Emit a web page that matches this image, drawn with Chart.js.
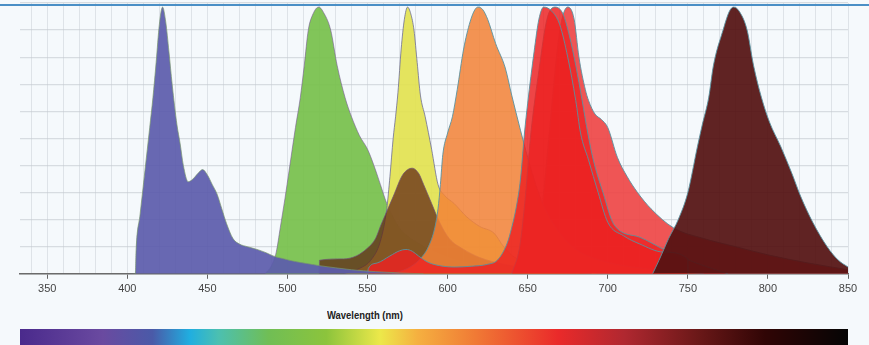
<!DOCTYPE html>
<html>
<head>
<meta charset="utf-8">
<script src="https://cdn.jsdelivr.net/npm/chart.js@4.4.1/dist/chart.umd.min.js"></script>
<style>
  html, body { margin: 0; padding: 0; background: #f5f9fc; }
  #wrap { position: relative; width: 869px; height: 345px; overflow: hidden; background: #f5f9fc; }
  #topline { position: absolute; left: 0; top: 4px; width: 869px; height: 2px; background: #4a8fc6; z-index: 2; }
  #chartBox { position: absolute; left: 0; top: 0; width: 869px; height: 300px; }
  #xtitle {
    position: absolute; left: 327px; top: 309px; white-space: nowrap;
    font: bold 11px "Liberation Sans", Arial, sans-serif; color: #222;
    transform: scaleX(0.86); transform-origin: left top;
  }
  #spectrum {
    position: absolute; left: 20px; top: 329px; width: 828px; height: 16px;
    background: linear-gradient(to right,
      #4a2a8c 0%, #6a4aa0 10%, #4a5aa8 16%, #20aee0 20.5%, #4cc0b0 24%,
      #70be55 30%, #8cc43c 37%, #ece84a 43.5%, #f5b040 48%, #f07a35 55%,
      #ea2a2a 65%, #b02830 73%, #6a1818 82%, #300505 90%, #050505 100%);
  }
</style>
</head>
<body>
<div id="wrap">
  <div id="topline"></div>
  <div id="chartBox"><canvas id="chart"></canvas></div>
  <div id="xtitle">Wavelength (nm)</div>
  <div id="spectrum"></div>
</div>
<script>
// emission spectra, [wavelength nm, % of max]
const violet = [[404,0],[405,0],[405.5,9],[408,22],[411,38],[414,54],[416,65],[418,78],[420,92],[422,98.5],
  [424,93],[426,82],[428,70],[431,55],[433,48],[435,40],[438,34],[441,35],[444,37],[447,38.5],[450,36.5],
  [453,33],[456,29.5],[459,24],[462,18.5],[466,13],[470,11],[475,10],[481,9],[487,7.7],[491,6.6],[498,5.5],
  [505,4.5],[512,3.8],[520,3],[530,2.2],[540,1.5],[555,0.8],[570,0.3],[585,0]];
const green = [[486,0],[490,3],[493,8],[495.5,17],[498.5,28],[501,38],[505,54],[508,65],[510.5,77],[513,90],
  [516,96],[519.5,98.5],[523,96],[527,90],[531,77],[536,65],[540,58],[545,51],[550,46],[554,40],[558,33],
  [562,26],[566,21],[570,17],[575,14],[580,12],[590,8.5],[600,6],[615,3.5],[630,2],[650,1],[680,0]];
const yellow = [[535,0],[545,2],[552,5],[558,12],[562,24],[564,36],[566,50],[567.5,58],[569,67],[571,83],
  [573,94],[575,98.5],[577,96],[579,90],[581,78],[583,66],[586,58],[590,46],[594,33],[598,29],[604,26],
  [612,21],[620,17.5],[629,15],[635,10],[642,6],[655,3],[675,1],[700,0]];
const brown = [[519.9,0],[520,5],[535,5.5],[543,6.6],[550,9.5],[555,13],[558,17.5],[562,23],[566,28.5],
  [572,36.6],[578,39],[582,37],[585,33],[590,26],[595,19],[601,13],[610,9],[620,6],[635,3.5],[650,2],
  [670,1],[690,0]];
const orange = [[565,0],[575,2],[582,5],[588,10],[592,17],[594,24],[595.5,33],[597,44],[600,52],[603,58],
  [606,68],[610,83],[614,93],[617,97.5],[619,98.5],[622,97.5],[625,94],[630,85],[636,76],[640,66],
  [645.5,53],[650,43],[655,33],[660,25],[670,15],[680,9],[695,5],[715,2.5],[740,1],[760,0]];
const redA = [[550,0],[550.5,2],[556,4],[564,6.6],[570,8.5],[574,9],[578,8.3],[582,6.5],[588,4.2],[595,3],
  [605,2.5],[615,2.8],[625,3.5],[631,5],[637,11],[640,17],[643,25],[645.5,35],[648,52],[650,63],[654,82],
  [657,94],[660,98.5],[665,97],[670,92],[675,80],[680,64],[683,52],[688,42],[694,30],[700,19],[710,14],
  [720,11],[735,8],[750,5.5],[750.1,0]];
const redB = [[640,0],[645,10],[648,25],[652,52],[657,75],[662,94],[667,98.5],[672,96],[676,88],[680,77],
  [684,64],[687.5,52],[691,42],[697,30],[704,18],[720,13.5],[735,9],[755,4],[775,0]];
const redC = [[650,0],[656,10],[660,30],[664,55],[668,80],[671,93],[675,98.5],[679,94],[682,80],[686,68],
  [688,64],[692,59],[696,57],[700,54],[706,43],[712,36],[718.6,30],[727,24],[741,17],[760,13],[780,10],
  [800,7],[825,4],[850,1.5]];
const maroon = [[728,0],[732,5],[735,9],[738,13],[744,20],[750,30],[756,47],[759,55],[763,65],[766,77],
  [772,90],[776,97],[778.6,98.5],[782,97],[787,90],[791,77],[796,65],[801,56],[808,47],[815,37],
  [820.5,28.5],[828,19],[837,10],[844,5],[850,2.5]];

const xTickLabels = [350, 400, 450, 500, 550, 600, 650, 700, 750, 800, 850];

const gridNm = [];
for (let v = 340; v <= 850; v += 10) gridNm.push(v);

const toPts = arr => arr.map(p => ({ x: p[0], y: p[1] }));
const edge = 'rgba(90,145,160,0.9)';

// first dataset is drawn on top
const series = [
  { data: violet, fill: 'rgba(92,92,172,0.93)', line: 'rgba(120,150,110,0.7)' },
  { data: maroon, fill: 'rgba(84,18,18,0.93)', line: edge },
  { data: redA, fill: 'rgba(236,35,35,0.84)', line: edge },
  { data: redB, fill: 'rgba(236,38,38,0.86)', line: edge },
  { data: orange, fill: 'rgba(242,130,55,0.86)', line: edge },
  { data: brown, fill: 'rgba(95,35,20,0.72)', line: 'rgba(110,80,120,0.7)' },
  { data: yellow, fill: 'rgba(226,226,80,0.92)', line: 'rgba(110,110,150,0.8)' },
  { data: green, fill: 'rgba(122,194,80,0.95)', line: 'rgba(120,90,150,0.6)' },
  { data: redC, fill: 'rgba(238,70,70,0.92)', line: edge }
];

new Chart(document.getElementById('chart'), {
  type: 'line',
  data: {
    datasets: series.map(s => ({
      data: toPts(s.data),
      backgroundColor: s.fill,
      borderColor: s.line,
      borderWidth: 1,
      fill: 'origin',
      pointRadius: 0,
      cubicInterpolationMode: 'monotone'
    }))
  },
  options: {
    responsive: true,
    maintainAspectRatio: false,
    animation: false,
    layout: { padding: { left: 20, right: 21, top: 3, bottom: 0 } },
    plugins: { legend: { display: false }, tooltip: { enabled: false } },
    scales: {
      x: {
        type: 'linear',
        min: 333,
        max: 850,
        afterBuildTicks: axis => { axis.ticks = gridNm.map(v => ({ value: v })); },
        ticks: {
          autoSkip: false,
          maxRotation: 0,
          padding: 4,
          color: '#444',
          font: { family: '"Liberation Sans", Arial, sans-serif', size: 11 },
          callback: v => xTickLabels.includes(v) ? String(v) : ''
        },
        grid: {
          color: 'rgba(200,206,212,0.5)',
          lineWidth: 1,
          tickLength: 5,
          tickColor: ctx => (ctx.tick && xTickLabels.includes(ctx.tick.value)) ? '#666' : 'rgba(0,0,0,0)'
        },
        border: { display: true, color: '#6b6b6b', width: 1.5 }
      },
      y: {
        min: 0,
        max: 100,
        ticks: { display: false, stepSize: 10 },
        grid: { color: 'rgba(195,200,206,0.6)', lineWidth: 1.2, drawTicks: false },
        border: { display: false }
      }
    }
  }
});
</script>
</body>
</html>
